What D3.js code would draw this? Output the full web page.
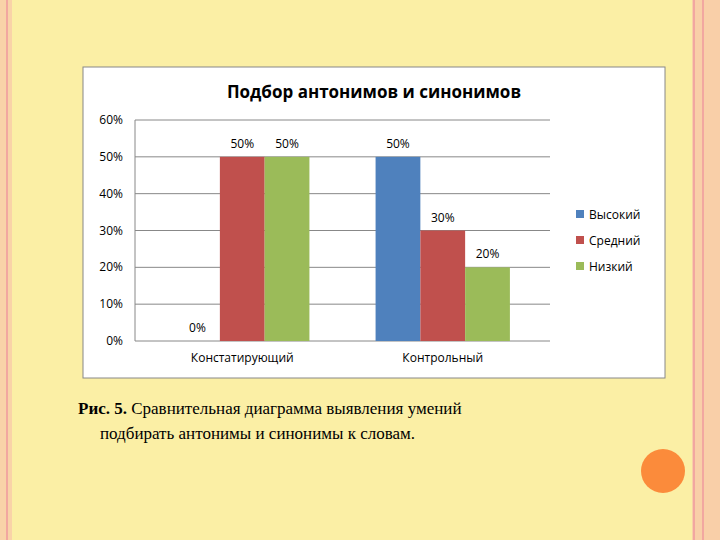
<!DOCTYPE html><html><head><meta charset="utf-8"><script src="https://cdn.jsdelivr.net/npm/d3@7"></script>
<style>body{margin:0}svg{display:block}</style></head><body><script>
const categories=["Констатирующий","Контрольный"];
const seriesNames=["Высокий","Средний","Низкий"];
const values=[[0,50,50],[50,30,20]];
const colors=["#4F81BD","#C0504D","#9BBB59"];
const yTicks=[0,0.1,0.2,0.3,0.4,0.5,0.6];
const svg=d3.select("body").append("svg").attr("width",720).attr("height",540);
svg.append("rect").attr("width",720).attr("height",540).attr("fill","#FBEFA5");
svg.append("rect").attr("x",0).attr("width",12).attr("height",540).attr("fill","#F9D3A8");
svg.append("rect").attr("x",6).attr("width",2).attr("height",540).attr("fill","#F2A7A0");
svg.append("rect").attr("x",692).attr("width",28).attr("height",540).attr("fill","#F9CFA8");
svg.append("rect").attr("x",693).attr("width",2).attr("height",540).attr("fill","#F2A7A0");
svg.append("rect").attr("x",702).attr("width",2).attr("height",540).attr("fill","#F2A7A0");
svg.append("ellipse").attr("cx",663).attr("cy",471).attr("rx",22).attr("ry",22).attr("fill","#FB8B3B");
svg.append("rect").attr("x",83).attr("y",67).attr("width",582).attr("height",311).attr("fill","#fff").attr("stroke","#888");
svg.append("text").attr("x",374).attr("y",98).attr("text-anchor","middle").attr("font-family","Open Sans, sans-serif").attr("font-weight","bold").attr("font-size",17).text("Подбор антонимов и синонимов");
const y=d3.scaleLinear().domain([0,0.6]).range([341,120]);
const x0=d3.scaleBand().domain(categories).range([135,550]).paddingInner(0.33).paddingOuter(0.2);
const x1=d3.scaleBand().domain(seriesNames).range([0,x0.bandwidth()]);
const g=svg.append("g");
g.selectAll("line.grid").data(yTicks).join("line").attr("x1",135).attr("x2",550).attr("y1",d=>y(d)).attr("y2",d=>y(d)).attr("stroke","#888");
g.append("line").attr("x1",135).attr("x2",135).attr("y1",120).attr("y2",341).attr("stroke","#888");
g.selectAll("text.yt").data(yTicks).join("text").attr("x",123).attr("y",d=>y(d)+4).attr("text-anchor","end").attr("font-family","Open Sans, sans-serif").attr("font-size",12).text(d=>Math.round(d*100)+"%");
categories.forEach((c,ci)=>{
 values[ci].forEach((v,si)=>{
  const bx=x0(c)+x1(seriesNames[si]);
  g.append("rect").attr("x",bx).attr("width",x1.bandwidth()).attr("y",y(v/100)).attr("height",y(0)-y(v/100)).attr("fill",colors[si]);
  g.append("text").attr("x",bx+x1.bandwidth()/2).attr("y",y(v/100)-9).attr("text-anchor","middle").attr("font-family","Open Sans, sans-serif").attr("font-size",12).text(v+"%");
 });
 g.append("text").attr("x",x0(c)+x0.bandwidth()/2).attr("y",362).attr("text-anchor","middle").attr("font-family","Open Sans, sans-serif").attr("font-size",12).text(c);
});
seriesNames.forEach((s,i)=>{
 svg.append("rect").attr("x",576).attr("y",210+i*26).attr("width",8).attr("height",8).attr("fill",colors[i]);
 svg.append("text").attr("x",589).attr("y",219+i*26).attr("font-family","Open Sans, sans-serif").attr("font-size",12).text(s);
});
const cap=svg.append("text").attr("font-family","Liberation Serif, serif").attr("font-size",17);
cap.append("tspan").attr("x",78).attr("y",414).attr("font-weight","bold").text("Рис. 5.");
cap.append("tspan").text(" Сравнительная диаграмма выявления умений");
cap.append("tspan").attr("x",100).attr("y",439).text("подбирать антонимы и синонимы к словам.");
</script></body></html>
